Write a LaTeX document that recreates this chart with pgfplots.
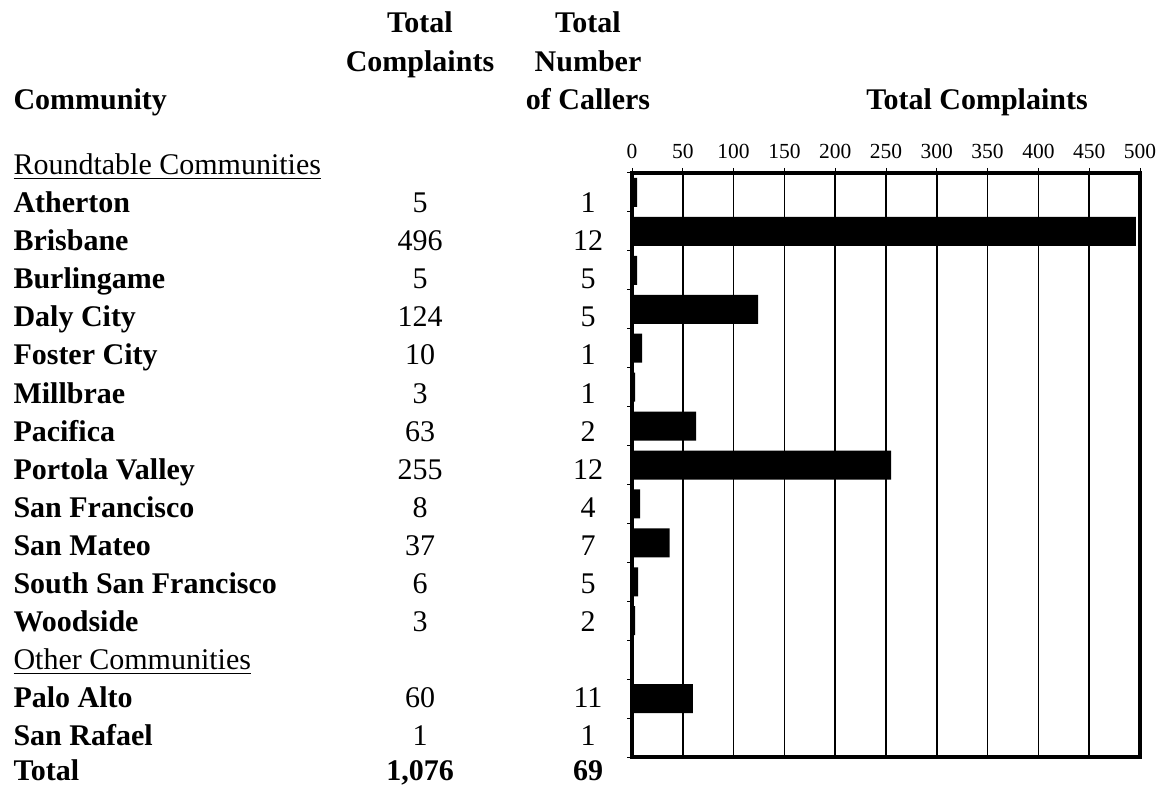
\documentclass[border=0pt]{standalone}
\usepackage{pgfplots}
\pgfplotsset{compat=1.18}
\usepackage{fontspec}
\setmainfont{Liberation Serif}
\begin{document}
\begin{tikzpicture}[x=0.4pt,y=0.4pt]
\useasboundingbox (0,0) rectangle (1160,788);
\begin{axis}[
  at={(252.8pt,12.4pt)}, anchor=south west,
  scale only axis, width=203.2pt, height=233.6pt,
  xmin=0, xmax=500, ymin=0.5, ymax=15.5, y dir=reverse,
  xbar, bar width=11.6pt,
  xtick={0,50,...,500}, xtick pos=upper, xticklabel pos=upper,
  ytick={0.5,1.5,...,15.5}, yticklabels={}, ytick pos=lower,
  tick align=outside, major tick length=2pt,
  tick style={black, line width=0.4pt},
  xmajorgrids, major grid style={black, line width=0.6pt},
  axis line style={black, line width=1.4pt},
  /pgf/number format/assume math mode=true,
  xticklabel style={font=\fontsize{8.6}{10}\selectfont, inner sep=1pt, yshift=2.5pt},
  clip=false,
]
\addplot[fill=black, draw=none] coordinates {
  (5,1) (496,2) (5,3) (124,4) (10,5) (3,6) (63,7) (255,8)
  (8,9) (37,10) (6,11) (3,12) (60,14) (1,15)
};
\end{axis}
\begin{scope}[every node/.style={inner sep=0pt, font=\fontsize{12}{14}\selectfont}]
% headers
\node[anchor=base west] at (13,678) {\textbf{Community}};
\node[anchor=base] at (420,755) {\textbf{Total}};
\node[anchor=base] at (420,716) {\textbf{Complaints}};
\node[anchor=base] at (588,755) {\textbf{Total}};
\node[anchor=base] at (588,716) {\textbf{Number}};
\node[anchor=base] at (588,678) {\textbf{of Callers}};
\node[anchor=base] at (977,678) {\textbf{Total Complaints}};
\node[anchor=base west] at (13,613) {\underline{Roundtable Communities}};
% rows
\foreach \i/\name/\c/\n in {
  1/Atherton/5/1, 2/Brisbane/496/12, 3/Burlingame/5/5, 4/Daly City/124/5,
  5/Foster City/10/1, 6/Millbrae/3/1, 7/Pacifica/63/2, 8/Portola Valley/255/12,
  9/San Francisco/8/4, 10/San Mateo/37/7, 11/South San Francisco/6/5,
  12/Woodside/3/2, 14/Palo Alto/60/11, 15/San Rafael/1/1} {
  \node[anchor=base west] at (13,{575.5-(\i-1)*38.1}) {\textbf{\name}};
  \node[anchor=base] at (420,{575.5-(\i-1)*38.1}) {\c};
  \node[anchor=base] at (588,{575.5-(\i-1)*38.1}) {\n};
}
\node[anchor=base west] at (13,118.3) {\underline{Other Communities}};
\node[anchor=base west] at (13,8) {\textbf{Total}};
\node[anchor=base] at (420,8) {\textbf{1,076}};
\node[anchor=base] at (588,8) {\textbf{69}};
\end{scope}
\end{tikzpicture}
\end{document}
